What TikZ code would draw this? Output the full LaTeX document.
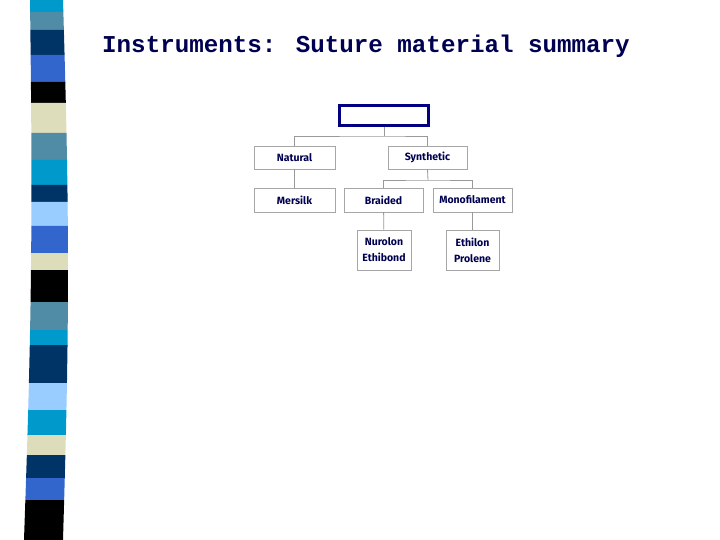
\documentclass[tikz,border=0pt]{standalone}
\usepackage{fontspec}
\newfontfamily\monof{Liberation Mono}
\newfontfamily\boxf{Fira Sans}
\definecolor{cy}{RGB}{0,153,204}
\definecolor{st}{RGB}{80,140,165}
\definecolor{nv}{RGB}{0,51,102}
\definecolor{bl}{RGB}{51,102,204}
\definecolor{bk}{RGB}{0,0,0}
\definecolor{be}{RGB}{221,221,187}
\definecolor{lb}{RGB}{153,204,255}
\definecolor{txt}{RGB}{0,0,80}
\definecolor{tb}{RGB}{0,0,128}
\tikzset{bx/.style={draw=gray!70,line width=0.8pt,fill=white,font=\boxf\bfseries\fontsize{10.5}{16}\selectfont,text=txt,align=center,inner sep=0pt},
ln/.style={draw=gray!80,line width=0.8pt}}
\begin{document}
\begin{tikzpicture}[x=1pt,y=-1pt]
\useasboundingbox (0,0) rectangle (720,540);
\foreach \a/\b/\c in {0/12/cy,12/30/st,30/55/nv,55/82/bl,82/103/bk,103/133/be,133/160/st,160/185/cy,185/202/nv,202/226/lb,226/253/bl,253/270/be,270/302/bk,302/330/st,330/345/cy,345/383/nv,383/410/lb,410/435/cy,435/455/be,455/478/nv,478/500/bl,500/540/bk}{
\pgfmathsetmacro\la{30-6*\a/540+4*sin(\a/3)}
\pgfmathsetmacro\lb{30-6*\b/540+4*sin(\b/3)}
\pgfmathsetmacro\ra{63+5*sin(\a/3)}
\pgfmathsetmacro\rb{63+5*sin(\b/3)}
\fill[\c] (\la,\a) -- (\ra,\a) -- (\rb,\b) -- (\lb,\b) -- cycle;}
\node[anchor=west,text=txt,font=\monof\bfseries\fontsize{24.2}{28}\selectfont,inner sep=0pt] (title) at (102,46) {Instruments: Suture material summary};
\node[draw=tb,line width=3pt,minimum width=89pt,minimum height=20pt] (top) at (384,115.5) {};
\node[bx,minimum width=81pt,minimum height=23pt] (nat) at (294.5,157.5) {Natural};
\node[bx,minimum width=79pt,minimum height=23pt] (syn) at (427.5,157.5) {Synthetic};
\node[bx,minimum width=81pt,minimum height=24pt] (mer) at (294.5,200) {Mersilk};
\node[bx,minimum width=79pt,minimum height=24pt] (bra) at (383.5,200) {Braided};
\node[bx,minimum width=79pt,minimum height=24pt] (mon) at (472.5,200) {Monofilament};
\node[bx,minimum width=54pt,minimum height=40pt] (nur) at (384,250) {Nurolon\\Ethibond};
\node[bx,minimum width=53pt,minimum height=40pt] (eth) at (472.5,250) {Ethilon\\Prolene};
\coordinate (j1) at (384,136);
\coordinate (j2) at (428,180);
\draw[ln] (top.south) -- (j1);
\draw[ln] (nat.north) |- (j1) -| (syn.north);
\draw[ln] (nat) -- (mer);
\draw[ln] (syn.south) -- (j2);
\draw[ln] (bra.north) |- (j2) -| (mon.north);
\draw[ln] (bra) -- (nur);
\draw[ln] (mon) -- (eth);
\end{tikzpicture}
\end{document}
